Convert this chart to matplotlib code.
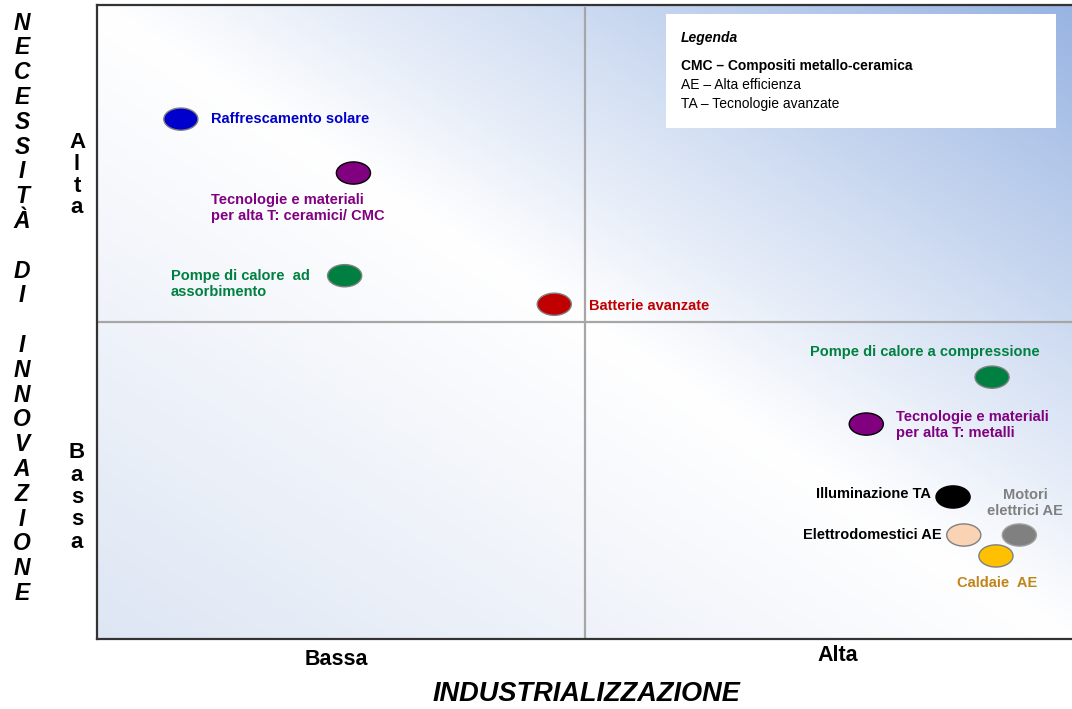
import numpy as np
import matplotlib.pyplot as plt
from matplotlib.patches import Ellipse, Rectangle

# technologies: industrializzazione (x) vs necessita di innovazione (y), scale 0-100
tech_names = ["Raffrescamento solare",
              "Tecnologie e materiali\nper alta T: ceramici/ CMC",
              "Pompe di calore  ad\nassorbimento",
              "Batterie avanzate",
              "Pompe di calore a compressione",
              "Tecnologie e materiali\nper alta T: metalli",
              "Illuminazione TA",
              "Elettrodomestici AE",
              "Motori\nelettrici AE",
              "Caldaie  AE"]
industrial = [8.6, 26.3, 25.4, 46.9, 91.8, 78.9, 87.8, 88.9, 94.6, 92.2]
innovation = [82.0, 73.5, 57.3, 52.8, 41.3, 33.9, 22.4, 16.4, 16.4, 13.1]

level_labels = ["Bassa", "Alta"]
legend_title = "Legenda"
legend_lines = ["CMC \u2013 Compositi metallo-ceramica",
                "AE \u2013 Alta efficienza",
                "TA \u2013 Tecnologie avanzate"]

# styles
face = ["#0000CC", "#800080", "#008040", "#C00000", "#008040",
        "#800080", "#000000", "#FAD2B4", "#808080", "#FFC000"]
edge = ["#808080", "#000000", "#808080", "#808080", "#808080",
        "#000000", "#000000", "#808080", "#a0a0a0", "#808080"]
text_col = ["#0000CC", "#800080", "#008040", "#C00000", "#008040",
            "#800080", "#000000", "#000000", "#808080", "#C08418"]
# label offset from the ellipse centre and alignment
offsets = [(3.1, 0), (-14.6, -5.5), (-17.8, -1.3), (3.6, -0.3), (-18.7, 4.0),
           (3.0, -0.15), (-2.3, 0.5), (-2.3, 0), (4.5, 5.1), (0.1, -4.3)]
aligns = ["left", "left", "left", "left", "left",
          "left", "right", "right", "right", "center"]

plt.rcParams['font.family'] = ['Liberation Sans', 'DejaVu Sans']

W, H = 1072, 709
fig = plt.figure(figsize=(W / 100, H / 100), dpi=100)
ax = fig.add_axes([97 / W, 70 / H, 975 / W, 634 / H])
ax.set_xlim(0, 100)
ax.set_ylim(0, 100)

# diagonal gradient: light blue bottom-left, white middle, blue top-right
u, v = np.meshgrid(np.linspace(0, 1, 300), np.linspace(0, 1, 300))
t = (u + v) / 2
c0 = np.array([222, 230, 244]) / 255
c1 = np.array([152, 180, 226]) / 255
white = np.ones(3)
low = np.clip((0.5 - t) / 0.5, 0, 1)[..., None]
high = np.clip((t - 0.5) / 0.5, 0, 1)[..., None]
img = white + (c0 - white) * low + (c1 - white) * high
ax.imshow(img, extent=[0, 100, 0, 100], origin='lower', aspect='auto', zorder=0)

ax.axvline(50, ymax=0.995, color="#a6a6a6", lw=1.6, zorder=1)
ax.axhline(50, color="#a6a6a6", lw=1.6, zorder=1)

for i in range(len(tech_names)):
    ax.add_patch(Ellipse((industrial[i], innovation[i]), 3.5, 3.5,
                         facecolor=face[i], edgecolor=edge[i], lw=1.0, zorder=3))
    dx, dy = offsets[i]
    ma = 'center' if i == 8 else aligns[i]
    ax.text(industrial[i] + dx, innovation[i] + dy, tech_names[i],
            color=text_col[i], fontsize=10.5, fontweight='bold',
            ha=aligns[i], va='center', multialignment=ma,
            linespacing=1.15, zorder=4)

# legend box
ax.add_patch(Rectangle((58.4, 80.6), 40.0, 18.0, facecolor='white',
                       edgecolor='none', zorder=2))
ax.text(59.9, 94.8, legend_title, fontsize=10, fontweight='bold',
        fontstyle='italic', va='center', zorder=3)
for j, line in enumerate(legend_lines):
    ax.text(59.9, 90.4 - 3.0 * j, line, fontsize=10,
            fontweight='bold' if j == 0 else 'normal', va='center', zorder=3)

ax.set_xticks([])
ax.set_yticks([])
for side in ['left', 'top', 'bottom']:
    ax.spines[side].set_color('#333333')
    ax.spines[side].set_linewidth(1.6)
ax.spines['right'].set_visible(False)

# axis category labels
ax.text(24.6, -3.2, level_labels[0], fontsize=15.5, fontweight='bold',
        ha='center', va='center')
ax.text(76.0, -2.6, level_labels[1], fontsize=15.5, fontweight='bold',
        ha='center', va='center')


def stack(word, x, y0, step, **kw):
    # write a word letter by letter downwards (figure pixels)
    for k, ch in enumerate(word):
        if ch != ' ':
            fig.text(x / W, 1 - (y0 + k * step) / H, ch, ha='center',
                     va='center', **kw)


stack("Alta", 77, 143, 21.5, fontsize=16, fontweight='bold')
stack(level_labels[0], 77, 453, 22.3, fontsize=16, fontweight='bold')
stack("NECESSIT\u00c0 DI INNOVAZIONE", 22, 23, 24.8, fontsize=16.5,
      fontweight='bold', fontstyle='italic')

fig.text(586 / W, 1 - 694 / H, "INDUSTRIALIZZAZIONE", fontsize=19.5,
         fontweight='bold', fontstyle='italic', ha='center', va='center')

fig.savefig("out.png", dpi=100)
